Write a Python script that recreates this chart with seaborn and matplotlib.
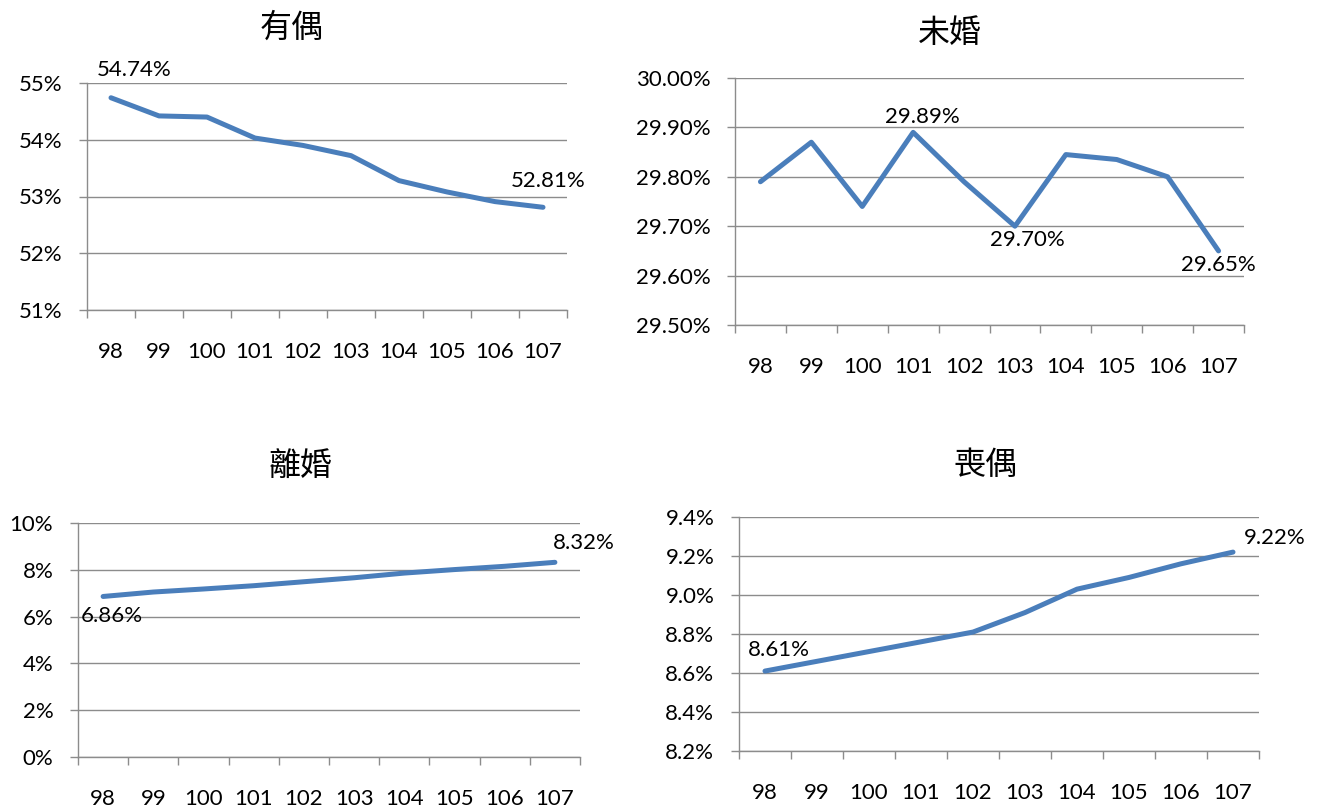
import numpy as np
import pandas as pd
import seaborn as sns
import matplotlib.pyplot as plt
from matplotlib.ticker import FixedLocator, FuncFormatter

# data (percent), years in ROC calendar
years = ['98', '99', '100', '101', '102', '103', '104', '105', '106', '107']
married = [54.74, 54.42, 54.40, 54.03, 53.90, 53.72, 53.28, 53.08, 52.91, 52.81]
single = [29.79, 29.87, 29.74, 29.89, 29.79, 29.70, 29.845, 29.835, 29.80, 29.65]
divorced = [6.86, 7.05, 7.18, 7.32, 7.49, 7.66, 7.86, 8.01, 8.15, 8.32]
widowed = [8.61, 8.66, 8.71, 8.76, 8.81, 8.91, 9.03, 9.09, 9.16, 9.22]

titles = ['有偶', '未婚', '離婚', '喪偶']

sns.set_style('white')
plt.rcParams['font.family'] = ['Lato', 'DejaVu Sans']

W, H = 1324, 811
fig = plt.figure(figsize=(W / 100, H / 100), dpi=100)

GRID = '#8c8c8c'
BLUE = '#4a7ebb'
FS = 16


def px_axes(left, top, right, bottom):
    return fig.add_axes([left / W, 1 - bottom / H, (right - left) / W, (bottom - top) / H])


panels = [
    # axes box, series, ylim, step, fmt, title pos, labels (index, dx, dy in pt)
    ((87, 83, 567, 310), married, (51, 55), 1, '{:.0f}%', (292, 28),
     [(0, 17, 20), (9, 4, 19)]),
    ((735, 78, 1244, 325), single, (29.5, 30.0), 0.1, '{:.2f}%', (950, 33),
     [(3, 7, 11), (5, 9, -10), (9, 0, -10)]),
    ((78, 523, 580, 757), divorced, (0, 10), 2, '{:.0f}%', (300, 466),
     [(0, 6, -14), (9, 21, 14)]),
    ((739, 517, 1259, 751), widowed, (8.2, 9.4), 0.2, '{:.1f}%', (985, 465),
     [(0, 10, 15), (9, 30, 10)]),
]

for (box, vals, ylim, step, fmt, tpos, labels), title in zip(panels, titles):
    ax = px_axes(*box)
    df = pd.DataFrame({'x': np.arange(len(years)), 'y': vals})
    sns.lineplot(data=df, x='x', y='y', ax=ax, color=BLUE, linewidth=3.6,
                 solid_capstyle='round', solid_joinstyle='round', zorder=3)

    ax.set_xlim(-0.5, len(years) - 0.5)
    ax.set_ylim(*ylim)
    yt = np.round(np.arange(ylim[0], ylim[1] + step / 2, step), 4)
    ax.set_yticks(yt)
    ax.yaxis.set_major_formatter(FuncFormatter(lambda v, p, f=fmt: f.format(v)))
    ax.set_xticks(np.arange(len(years)))
    ax.set_xticklabels(years)
    ax.xaxis.set_minor_locator(FixedLocator(np.arange(-0.5, len(years), 1)))

    ax.grid(axis='y', color=GRID, linewidth=1.0, zorder=1)
    ax.set_axisbelow(True)
    for s in ['top', 'right']:
        ax.spines[s].set_visible(False)
    for s in ['left', 'bottom']:
        ax.spines[s].set_color(GRID)
        ax.spines[s].set_linewidth(1.0)

    ax.tick_params(axis='x', which='major', bottom=True, length=0, pad=23,
                   labelsize=FS, colors='black')
    ax.tick_params(axis='x', which='minor', bottom=True, length=5.5, width=1.0,
                   color=GRID, direction='out')
    ax.tick_params(axis='y', left=True, length=5.8, width=1.0, color=GRID, direction='out',
                   pad=12, labelsize=FS, labelcolor='black')
    ax.set_xlabel('')
    ax.set_ylabel('')

    for i, dx, dy in labels:
        ax.annotate('{:.2f}%'.format(vals[i]),
                    (i, vals[i]), xytext=(dx, dy), textcoords='offset points',
                    ha='center', va='center', fontsize=FS, color='black', zorder=4)

    fig.text(tpos[0] / W, 1 - tpos[1] / H, title, ha='center', va='center',
             fontsize=23, family=['Noto Sans CJK TC', 'DejaVu Sans'], color='black')

fig.savefig('out.png', dpi=100)
